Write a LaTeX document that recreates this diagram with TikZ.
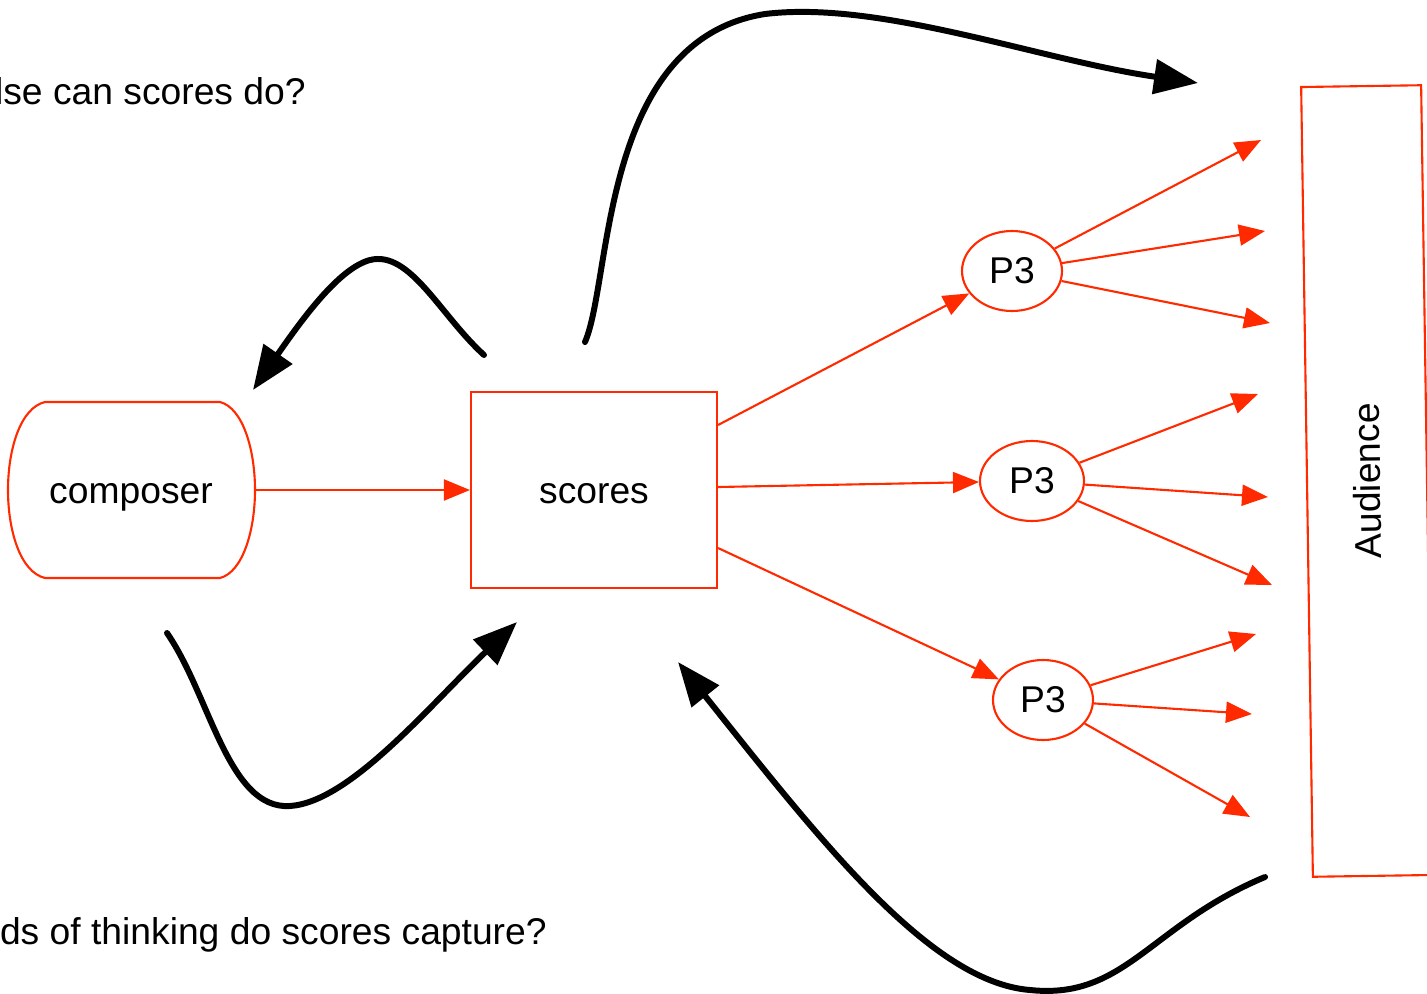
\documentclass[tikz,border=0pt]{standalone}
\usepackage{fontspec}
\setmainfont{Liberation Sans}
\usetikzlibrary{arrows.meta,shapes.geometric}
\definecolor{lred}{RGB}{255,42,0}
\begin{document}
\begin{tikzpicture}[x=0.02cm,y=-0.02cm,
  lbl/.style={font=\fontsize{21.2}{25}\selectfont},
  redline/.style={draw=lred,line width=1.2pt},
  redarrow/.style={lred,line width=1.2pt,-{Triangle[length=0.52cm,width=0.42cm]}},
  bigarrow/.style={black,line width=3.4pt,line cap=round,-{Triangle[length=0.88cm,width=0.68cm]}},
  pnode/.style={redline,ellipse,inner sep=0pt,minimum width=2cm,minimum height=1.6cm,lbl}]
\useasboundingbox (0,0) rectangle (1427,994);
\clip (0,0) rectangle (1427,994);
% texts
\node[lbl,anchor=base east,inner sep=0pt] (q1) at (306,104) {lse can scores do?};
\node[lbl,anchor=base east,inner sep=0pt] (q2) at (547,944) {ds of thinking do scores capture?};
% composer
\node[lbl,minimum width=4.94cm,minimum height=3.52cm,inner sep=0pt,text height=15pt,text depth=0pt] (composer) at (131,490) {composer};
\draw[redline] (45,402) -- (220,402) .. controls (243,408) and (255,450) .. (255,490)
  .. controls (255,530) and (243,572) .. (220,578) -- (45,578)
  .. controls (20,572) and (8,530) .. (8,490) .. controls (8,450) and (20,408) .. (45,402) -- cycle;
% scores
\node[lbl,redline,rectangle,minimum width=4.92cm,minimum height=3.92cm,inner sep=0pt,text height=15pt,text depth=0pt] (scores) at (594,490) {scores};
% audience
\node[lbl,redline,rectangle,rotate=90.85,minimum width=15.8cm,minimum height=2.4cm,inner sep=0pt] (aud) at (1367,481) {Audience};
% P3 nodes
\node[pnode] (p1) at (1012,271) {P3};
\node[pnode,minimum width=2.08cm] (p2) at (1032,481) {P3};
\node[pnode] (p3) at (1043,700) {P3};
% red arrows
\draw[redarrow] (composer.east) -- (scores.west);
\draw[redarrow] ([yshift=1.3cm]scores.east) -- (p1);
\draw[redarrow] ([yshift=0.06cm]scores.east) -- (p2);
\draw[redarrow] ([yshift=-1.16cm]scores.east) -- (p3);
\coordinate (a1) at (1261,140);
\coordinate (a2) at (1265,231);
\coordinate (a3) at (1270,323);
\coordinate (b1) at (1258,394);
\coordinate (b2) at (1268,497);
\coordinate (b3) at (1272,585);
\coordinate (c1) at (1256,634);
\coordinate (c2) at (1252,714);
\coordinate (c3) at (1250,817);
\draw[redarrow] (p1) -- (a1);
\draw[redarrow] (p1) -- (a2);
\draw[redarrow] (p1) -- (a3);
\draw[redarrow] (p2) -- (b1);
\draw[redarrow] (p2) -- (b2);
\draw[redarrow] (p2) -- (b3);
\draw[redarrow] (p3) -- (c1);
\draw[redarrow] (p3) -- (c2);
\draw[redarrow] (p3) -- (c3);
% black curved arrows
\coordinate (s1) at (585,342);
\coordinate (e1) at (1198,83);
\coordinate (s2) at (484,355);
\coordinate (e2) at (253,390);
\coordinate (s3) at (167,633);
\coordinate (e3) at (517,622);
\coordinate (s4) at (1265,877);
\coordinate (e4) at (678,662);
\draw[bigarrow] (s1) .. controls (612,280) and (600,40) .. (765,14) .. controls (880,0) and (1040,60) .. (e1);
\draw[bigarrow] (s2) .. controls (440,315) and (410,250) .. (370,260) .. controls (340,268) and (305,315) .. (e2);
\draw[bigarrow] (s3) .. controls (210,695) and (228,810) .. (290,806) .. controls (350,802) and (430,705) .. (e3);
\draw[bigarrow] (s4) .. controls (1150,925) and (1125,1000) .. (1030,990) .. controls (930,982) and (820,840) .. (e4);
\end{tikzpicture}
\end{document}
